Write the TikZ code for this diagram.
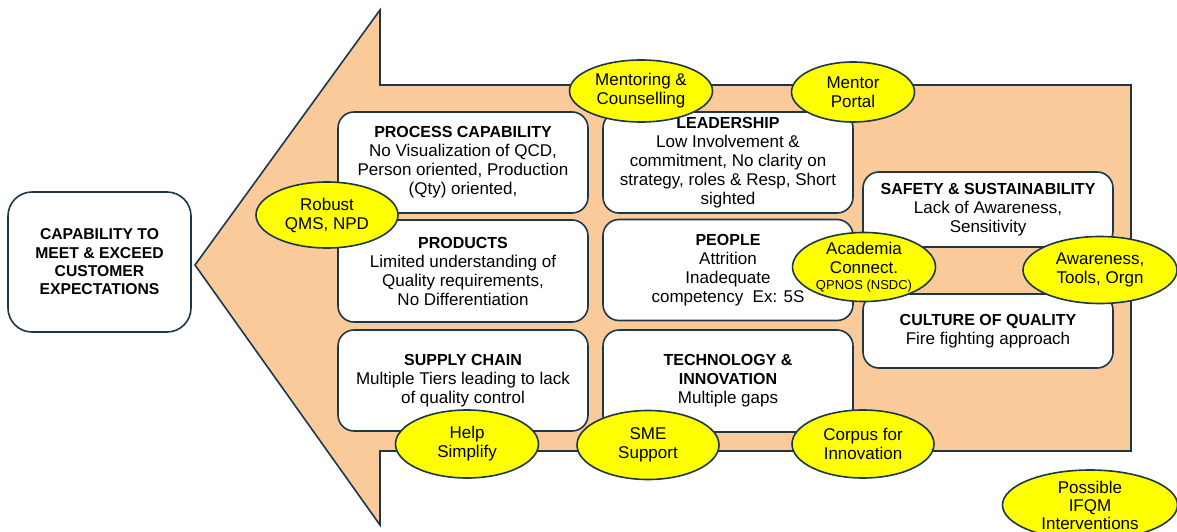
\documentclass[tikz,border=0pt]{standalone}
\usepackage{fontspec}
\setmainfont{Liberation Sans}
\usetikzlibrary{shapes.geometric}
\definecolor{edge}{RGB}{30,55,72}
\definecolor{peach}{RGB}{251,202,155}
\definecolor{hilite}{RGB}{255,255,0}
\newcommand{\hd}[1]{{\fontsize{16}{19}\selectfont\bfseries #1}}
\tikzset{
	box/.style={rectangle, rounded corners=16pt, draw=edge, line width=1.6pt, fill=white, align=center,
		minimum width=250pt, minimum height=101pt, inner sep=0pt, font=\fontsize{17}{19}\selectfont},
	tag/.style={ellipse, draw=edge, line width=1.6pt, fill=hilite, align=center,
		inner sep=-6pt, font=\fontsize{17}{19}\selectfont}
}
\begin{document}
\begin{tikzpicture}[x=1pt,y=-1pt]
	\useasboundingbox (0,0) rectangle (1177,532);
	% big arrow
	\draw[draw=edge, line width=1.6pt, fill=peach] (195,265) -- (380,10) -- (380,85) -- (1131,85)
		-- (1131,451) -- (380,451) -- (380,525) -- cycle;
	% goal
	\node (CAP) at (99.5,262)	[box, minimum width=183pt, minimum height=140pt, rounded corners=24pt,
		font=\bfseries\fontsize{15.7}{18.3}\selectfont]	{CAPABILITY TO\\MEET \& EXCEED\\CUSTOMER\\EXPECTATIONS};
	% gaps
	\node (PC) at (463,162.5)	[box]	{\hd{PROCESS CAPABILITY}\\No Visualization of QCD,\\Person oriented, Production\\(Qty) oriented,};
	\node (LD) at (728,162.5)	[box]	{\hd{LEADERSHIP}\\Low Involvement \&\\commitment, No clarity on\\strategy, roles \& Resp, Short\\sighted};
	\node (PR) at (463,271)	[box, minimum height=102pt]	{\hd{PRODUCTS}\\Limited understanding of\\Quality requirements,\\No Differentiation};
	\node (PE) at (728,270)	[box]	{\hd{PEOPLE}\\Attrition\\Inadequate\\competency\ \ Ex: 5S};
	\node (SC) at (463,380.5)	[box]	{\hd{SUPPLY CHAIN}\\Multiple Tiers leading to lack\\of quality control};
	\node (TI) at (728,381)	[box, minimum height=102pt]	{\hd{TECHNOLOGY \&}\\\hd{INNOVATION}\\Multiple gaps};
	\node (SS) at (988,209.5)	[box, minimum height=75pt]	{\hd{SAFETY \& SUSTAINABILITY}\\Lack of Awareness,\\Sensitivity};
	\node (CQ) at (988,331)	[box, minimum height=74pt]	{\hd{CULTURE OF QUALITY}\\Fire fighting approach};
	% interventions
	\node (MC) at (641,91)	[tag, minimum width=143pt, minimum height=62pt]	{Mentoring \&\\Counselling};
	\node (MP) at (853,92)	[tag, minimum width=123pt, minimum height=60pt]	{Mentor\\Portal};
	\node (RQ) at (327,215)	[tag, minimum width=142pt, minimum height=66pt]	{Robust\\QMS, NPD};
	\node (AC) at (864,267)	[tag, minimum width=143pt, minimum height=69pt]	{Academia\\Connect.\\[-3pt]{\fontsize{13}{15}\selectfont QPNOS (NSDC)}};
	\node (AT) at (1100,270)	[tag, minimum width=154pt, minimum height=67pt]	{Awareness,\\Tools, Orgn};
	\node (HS) at (467,444)	[tag, minimum width=143pt, minimum height=68pt]	{Help\\Simplify};
	\node (SM) at (648,445)	[tag, minimum width=142pt, minimum height=69pt]	{SME\\Support};
	\node (CI) at (863,444)	[tag, minimum width=142pt, minimum height=68pt]	{Corpus for\\Innovation};
	\node (PI) at (1090,505)	[tag, minimum width=175pt, minimum height=70pt,
		font=\fontsize{17}{18}\selectfont]	{Possible\\IFQM\\Interventions};
\end{tikzpicture}
\end{document}
